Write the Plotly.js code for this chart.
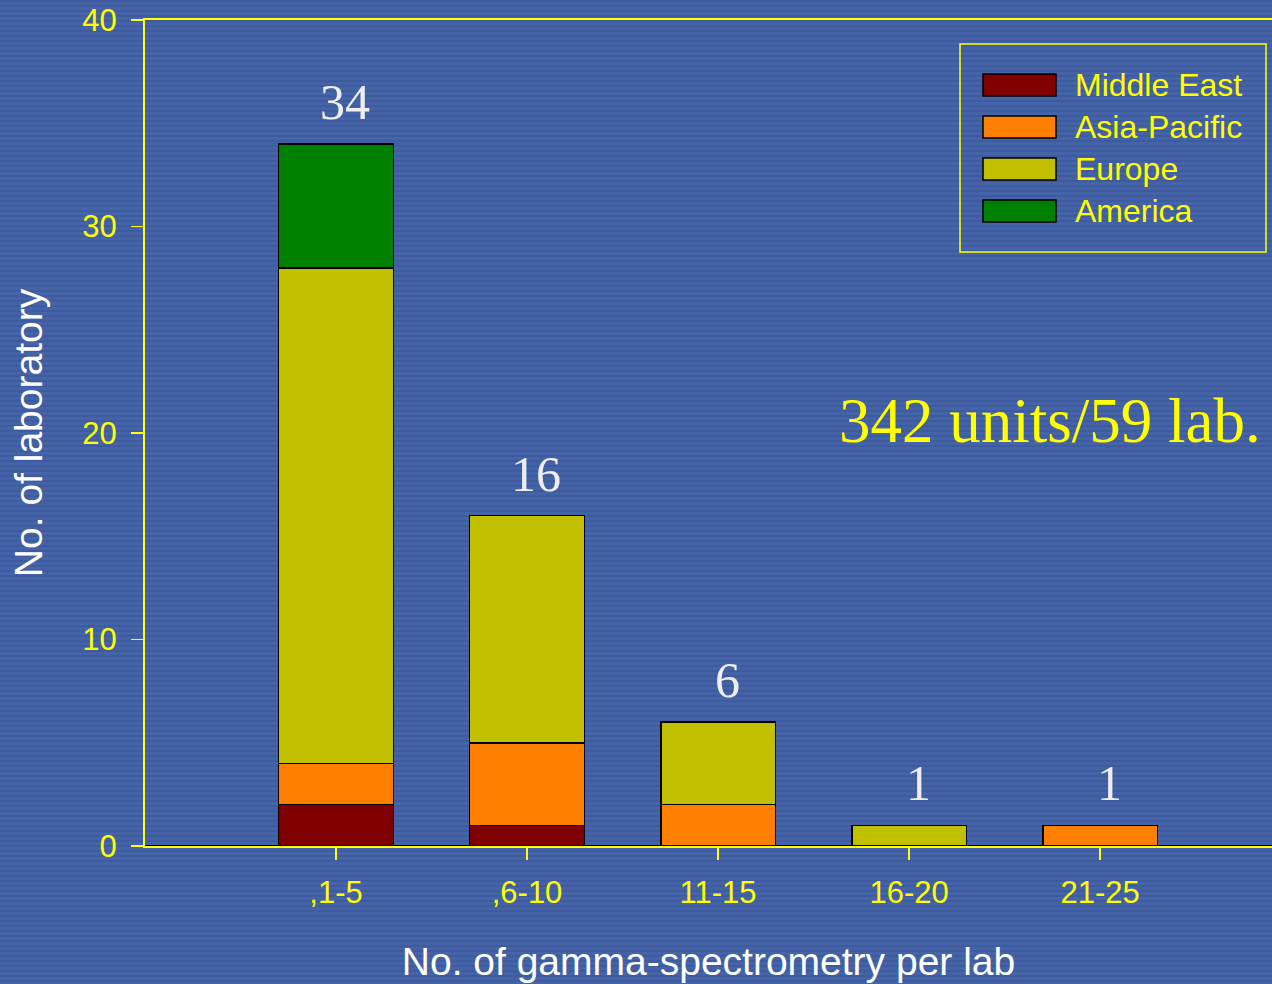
<!DOCTYPE html>
<html>
<head>
<meta charset="utf-8">
<script src="https://cdn.plot.ly/plotly-3.0.1.min.js"></script>
<style>
  html, body { margin: 0; padding: 0; }
  body {
    width: 1272px; height: 984px; overflow: hidden;
    background: repeating-linear-gradient(to bottom, #3d5b9e 0px, #3d5b9e 2px, #4564a7 2px, #4564a7 5px);
  }
  #chart { width: 1272px; height: 984px; }
</style>
</head>
<body>
<div id="chart"></div>
<script>
// ---- data ----
const categories = [",1-5", ",6-10", "11-15", "16-20", "21-25"];
const seriesNames = ["Middle East", "Asia-Pacific", "Europe", "America"];
const middleEast  = [2, 1, 0, 0, 0];
const asiaPacific = [2, 4, 2, 0, 1];
const europe      = [24, 11, 4, 1, 0];
const america     = [6, 0, 0, 0, 0];
const totals      = [34, 16, 6, 1, 1];
const yTicks      = [0, 10, 20, 30, 40];
const summaryText = "342 units/59 lab.";

// ---- styling ----
const colors = ["#800000", "#ff8000", "#c0c000", "#008000"];
const yellow = "#ffff00";
const sans = "Liberation Sans, Arial, sans-serif";
const serif = "Liberation Serif, Times New Roman, serif";

const seriesValues = [middleEast, asiaPacific, europe, america];
const traces = seriesValues.map((vals, i) => ({
  type: "bar",
  name: seriesNames[i],
  x: categories,
  y: vals,
  width: 0.6,
  marker: { color: colors[i], line: { color: "#000000", width: 1.5 } },
  showlegend: false,
  hoverinfo: "x+y+name"
}));

// plot area in pixels
const L = 145, T = 20, W = 1127, H = 826;
const px = x => (x - L) / W;
const py = y => (T + H - y) / H;

const shapes = [];
const annotations = [];

// baseline black line
shapes.push({ type: "line", xref: "paper", yref: "y", x0: 0, x1: 1, y0: 0, y1: 0,
  line: { color: "#000000", width: 2 } });

// legend box
shapes.push({ type: "rect", xref: "paper", yref: "paper",
  x0: px(960), x1: px(1266), y0: py(252), y1: py(44),
  line: { color: yellow, width: 1.5 }, fillcolor: "rgba(0,0,0,0)" });
seriesNames.forEach((name, i) => {
  const cy = 85 + i * 42;
  shapes.push({ type: "rect", xref: "paper", yref: "paper",
    x0: px(983), x1: px(1056), y0: py(cy + 11), y1: py(cy - 11),
    line: { color: "#000000", width: 1.5 }, fillcolor: colors[i] });
  annotations.push({ xref: "paper", yref: "paper", x: px(1073), y: py(cy),
    xanchor: "left", yanchor: "middle", showarrow: false, text: name,
    font: { family: sans, size: 32, color: yellow } });
});

// totals
categories.forEach((c, i) => {
  annotations.push({ x: c, y: totals[i], xref: "x", yref: "y",
    text: String(totals[i]), showarrow: false, yanchor: "middle", yshift: 42, xshift: 9,
    font: { family: serif, size: 50, color: "#eeeeee" } });
});

// summary
annotations.push({ xref: "paper", yref: "paper", x: px(1050), y: py(421),
  xanchor: "center", yanchor: "middle", showarrow: false, text: summaryText,
  font: { family: serif, size: 63, color: yellow } });

const layout = {
  width: 1272, height: 984,
  margin: { l: L, r: 0, t: T, b: 984 - T - H, pad: 0 },
  paper_bgcolor: "rgba(0,0,0,0)",
  plot_bgcolor: "rgba(0,0,0,0)",
  barmode: "stack",
  showlegend: false,
  xaxis: {
    type: "category",
    range: [-1, 4.9],
    showline: true, linecolor: yellow, linewidth: 2, mirror: true,
    ticks: "outside", ticklen: 12, tickwidth: 1.5, tickcolor: yellow,
    showgrid: false, zeroline: false,
    tickfont: { family: sans, size: 31, color: yellow },
    ticklabelstandoff: 6,
    title: { text: "No. of gamma-spectrometry per lab", standoff: 38,
      font: { family: sans, size: 39, color: "#ffffff" } },
    fixedrange: true, automargin: false
  },
  yaxis: {
    range: [0, 40],
    tickvals: yTicks,
    showline: true, linecolor: yellow, linewidth: 2,
    ticks: "outside", ticklen: 12, tickwidth: 1.5, tickcolor: yellow,
    showgrid: false, zeroline: false,
    tickfont: { family: sans, size: 31, color: yellow },
    ticklabelstandoff: 8,
    title: { text: "No. of laboratory", standoff: 28,
      font: { family: sans, size: 39, color: "#ffffff" } },
    fixedrange: true, automargin: false
  },
  shapes: shapes,
  annotations: annotations
};

Plotly.newPlot("chart", traces, layout, { displayModeBar: false, staticPlot: true });
</script>
</body>
</html>
